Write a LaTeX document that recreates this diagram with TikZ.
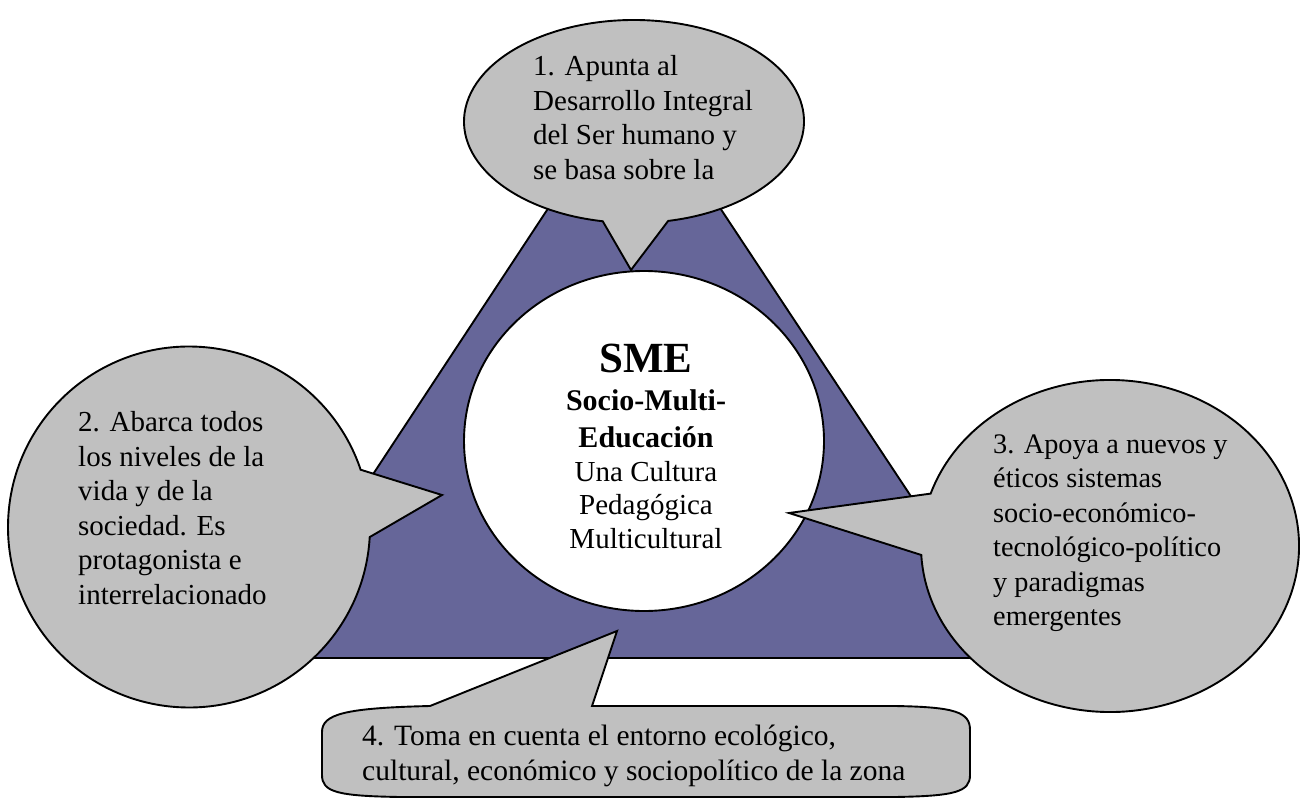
\documentclass[tikz,border=0pt]{standalone}
\usepackage{fontspec}
\setmainfont{Liberation Serif}
\usetikzlibrary{calc}
\definecolor{trifill}{HTML}{666699}
\definecolor{bubfill}{HTML}{C0C0C0}
\tikzset{
  outline/.style={draw=black, line width=1.9pt, line join=miter},
  bubble/.style={outline, fill=bubfill},
  btext/.style={inner sep=0pt, align=left, anchor=base west, font=\fontsize{29}{34.5}\selectfont},
}
\begin{document}
\begin{tikzpicture}[x=1pt,y=-1pt]
\useasboundingbox (0,0) rectangle (1300,799);
\fill[white] (0,0) rectangle (1300,799);
% triangle
\coordinate (tA) at (634,78);
\coordinate (tB) at (252,658);
\coordinate (tC) at (1018,658);
\draw[outline, fill=trifill] (tA) -- (tB) -- (tC) -- cycle;
% central circle
\coordinate (cc) at (644,441);
\draw[outline, fill=white] (cc) ellipse[x radius=180, y radius=170];
% bubble 1
\coordinate (c1) at (634,121.5);
\coordinate (p1) at (631,270);
\draw[bubble] ($(c1)+(100.6:170 and 101.5)$) arc[start angle=100.6, end angle=438.4, x radius=170, y radius=101.5] -- (p1) -- cycle;
% bubble 2
\coordinate (c2) at (189,527);
\coordinate (p2) at (442,495);
\draw[bubble] ($(c2)+(3.2:181 and 180.5)$) arc[start angle=3.2, end angle=341.5, x radius=181, y radius=180.5] -- (p2) -- cycle;
% bubble 3
\coordinate (c3) at (1110,546);
\coordinate (p3) at (789,513);
\draw[bubble] ($(c3)+(198.4:189 and 166)$) arc[start angle=198.4, end angle=536.9, x radius=189, y radius=166] -- (p3) -- cycle;
% bubble 4
\coordinate (p4) at (617,631);
\draw[bubble] (322,732) .. controls (322,714) and (345,708) .. (430,706) -- (p4) -- (592,706) -- (895,706)
  .. controls (955,707) and (970,712) .. (970,730) -- (970,775)
  .. controls (970,792) and (955,796) .. (895,797) -- (400,797)
  .. controls (337,796) and (322,792) .. (322,775) -- cycle;
% texts (anchor = baseline of the last line)
\node[btext] (t1) at (533,179.5) {1. Apunta al\\Desarrollo Integral\\del Ser humano y\\se basa sobre la};
\node[btext] (t2) at (78,604) {2. Abarca todos\\los niveles de la\\vida y de la\\sociedad. Es\\protagonista e\\interrelacionado};
\node[btext, font=\fontsize{28.3}{34.5}\selectfont] (t3) at (993,625.5) {3. Apoya a nuevos y\\éticos sistemas\\socio-económico-\\tecnológico-político\\y paradigmas\\emergentes};
\node[btext, font=\fontsize{29.5}{35}\selectfont] (t4) at (362,780) {4. Toma en cuenta el entorno ecológico,\\cultural, económico y sociopolítico de la zona};
\node[inner sep=0pt, anchor=base, font=\fontsize{43}{48}\selectfont\bfseries] (sme) at (646,372) {SME};
\node[inner sep=0pt, anchor=base, align=center, font=\fontsize{30}{37}\selectfont\bfseries] (smeb) at (646,447) {Socio-Multi-\\Educación};
\node[inner sep=0pt, anchor=base, align=center, font=\fontsize{29}{33.5}\selectfont] (smer) at (646,548) {Una Cultura\\Pedagógica\\Multicultural};
\end{tikzpicture}
\end{document}
